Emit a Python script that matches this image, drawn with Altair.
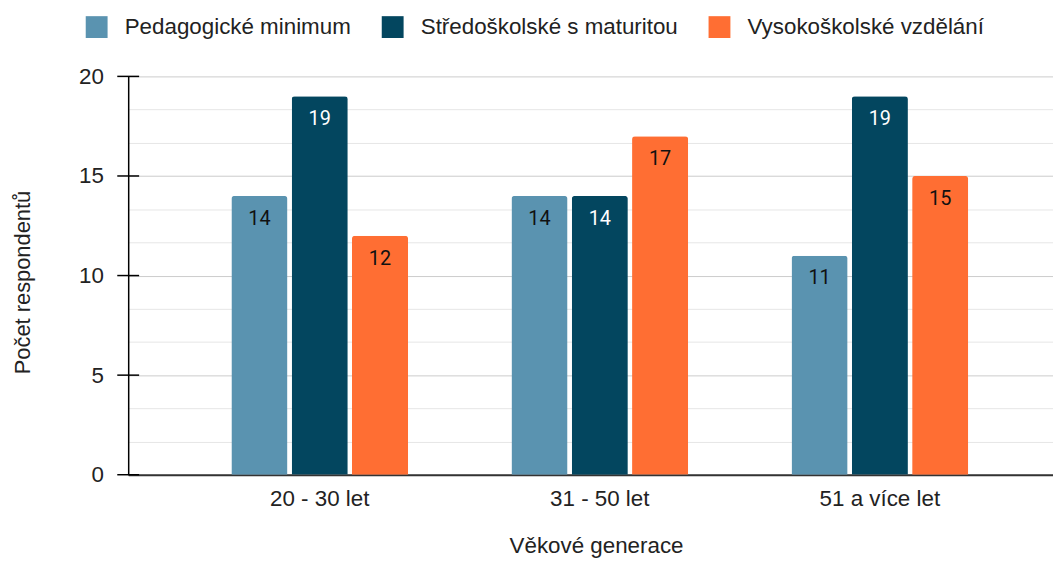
import altair as alt
import pandas as pd

categories = ["20 - 30 let", "31 - 50 let", "51 a více let"]
series = ["Pedagogické minimum", "Středoškolské s maturitou", "Vysokoškolské vzdělání"]
pedagogicke = [14, 14, 11]
stredoskolske = [19, 14, 19]
vysokoskolske = [12, 17, 15]
colors = ["#5A93B0", "#03465F", "#FF6E33"]
label_colors = ["#111111", "#FFFFFF", "#111111"]
major_ticks = [0, 5, 10, 15, 20]
grid_values = [i * 5 / 3 for i in range(13)]

rows = []
for s_i, (name, vals) in enumerate(zip(series, [pedagogicke, stredoskolske, vysokoskolske])):
    for c, v in zip(categories, vals):
        rows.append({"kat": c, "serie": name, "hodnota": v, "lc": label_colors[s_i]})
df = pd.DataFrame(rows)
ticks_df = pd.DataFrame({"hodnota": major_ticks})

FONT = "Liberation Sans"
TXT = "#222222"
FS = 22.5

xscale = alt.Scale(domain=categories, paddingInner=0.354, paddingOuter=0.328, align=0.55)
yscale = alt.Scale(domain=[0, 20], nice=False, zero=True)

x_enc = alt.X(
    "kat:N", scale=xscale, sort=categories,
    axis=alt.Axis(
        title="Věkové generace", labelAngle=0, ticks=False, tickSize=0,
        labelPadding=13, labelFontSize=FS, labelFont=FONT, labelColor=TXT,
        domainColor="#333333", domainWidth=2, grid=False,
        titleFontSize=FS, titleFont=FONT, titleFontWeight="normal", titleColor=TXT,
        titleX=471, titleY=78, titleBaseline="alphabetic", titleAlign="center",
    ),
)
xoff_enc = alt.XOffset("serie:N", sort=series, scale=alt.Scale(domain=series, paddingInner=0.07, paddingOuter=0.035))
y_enc = alt.Y(
    "hodnota:Q", scale=yscale,
    axis=alt.Axis(
        values=grid_values, title="Počet respondentů",
        labelExpr="datum.value % 5 === 0 ? datum.label : ''", format="d",
        ticks=False, tickSize=0, labelPadding=25, labelFontSize=FS, labelFont=FONT,
        labelColor=TXT, labelBaseline="middle",
        domainColor="#000000", domainWidth=1.5,
        grid=True, gridWidth=1,
        gridColor=alt.condition("datum.value % 5 === 0", alt.value("#cccccc"), alt.value("#e6e6e6")),
        titleFontSize=22, titleFont=FONT, titleFontWeight="normal", titleColor=TXT,
        titleX=-99, titleY=207, titleBaseline="alphabetic", titleAlign="center", titleAngle=270,
    ),
)

bars = alt.Chart(df).mark_bar(cornerRadiusTopLeft=3, cornerRadiusTopRight=3).encode(
    x=x_enc, xOffset=xoff_enc, y=y_enc,
    color=alt.Color(
        "serie:N", scale=alt.Scale(domain=series, range=colors),
        legend=alt.Legend(
            title=None, orient="none", legendX=-43, legendY=-61, direction="horizontal",
            symbolType="square", symbolSize=484, symbolStrokeWidth=0, symbolOpacity=1,
            labelFontSize=FS, labelFont=FONT, labelColor=TXT, labelOffset=17,
            columnPadding=30, padding=0, labelLimit=400,
        ),
    ),
)

labels = alt.Chart(df).mark_text(dy=23, fontSize=20, font="Roboto", baseline="middle", align="center").encode(
    x=x_enc, xOffset=xoff_enc, y=y_enc,
    text=alt.Text("hodnota:Q"),
    color=alt.Color("lc:N", scale=None),
)

cross_ticks = alt.Chart(ticks_df).mark_rule(color="#000000", strokeWidth=1.5).encode(
    y=y_enc, x=alt.value(-11), x2=alt.value(11)
)

chart = alt.layer(bars, labels, cross_ticks).properties(
    width=931, height=401,
    autosize=alt.AutoSizeParams(type="none"),
    padding={"left": 121, "top": 67, "right": 0, "bottom": 85},
    background="#ffffff",
).configure_view(stroke=None)

chart.save("out.html", embed_options={"renderer": "svg", "actions": False})
